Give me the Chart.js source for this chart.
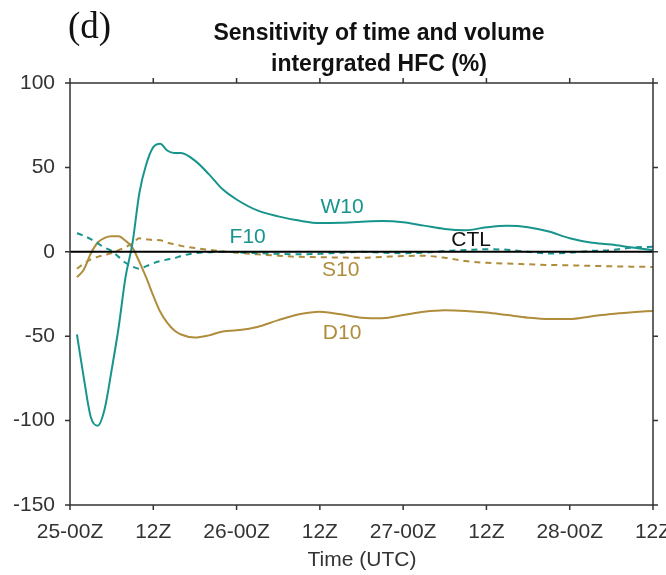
<!DOCTYPE html>
<html>
<head>
<meta charset="utf-8">
<script src="https://cdn.jsdelivr.net/npm/chart.js@4"></script>
<style>
  html, body { margin: 0; padding: 0; background: #fff; }
  #wrap { width: 666px; height: 575px; position: relative; }
</style>
</head>
<body>
<div id="wrap"><canvas id="chartHFC"></canvas></div>
<script>
// hours since 25-00Z
const hours = [1, 2, 3, 4, 5, 6, 7, 8, 9, 10, 11, 12, 13, 14, 15, 16, 18, 20, 22, 24,
  27, 30, 33, 36, 39, 42, 45, 48, 51, 54, 57, 60, 63, 66, 69, 72, 75, 78, 81, 84];

const w10 = [-49, -75, -98, -103, -93, -70, -45, -15, 5, 35, 52, 62, 64, 60, 58.5, 58.5, 54, 46, 37, 31,
  24.5, 21, 18.5, 17, 17.2, 17.8, 18.2, 17.5, 15.5, 13.5, 12.8, 14.5, 15.4, 14.6, 12, 8, 5.5, 4.3, 2.5, 1];
const d10 = [-15, -10.5, -1, 5.5, 8.3, 9.2, 9.2, 6.5, 2.5, -6, -15.5, -26, -35.5, -42, -46.5, -49, -50.8, -49.5, -47.2, -46.5,
  -44.5, -40.5, -37, -35.5, -37, -39, -39.3, -37.5, -35.5, -34.6, -35, -36, -37.5, -39, -39.8, -39.8, -38.3, -36.8, -35.8, -35];
const s10 = [-10, -7, -4.5, -3, -1.8, -0.8, 1, 2.8, 5, 8, 7.5, 7, 6.8, 5.5, 4.5, 3.5, 2.3, 1.2, 0.2, -0.5,
  -1.5, -2.3, -3, -3.2, -3.4, -3.5, -3, -2.5, -2.4, -3.5, -5.5, -6.5, -7, -7.4, -7.8, -8, -8.3, -8.6, -8.8, -9];
const f10 = [11, 9.5, 7.5, 5, 2.5, 0.5, -3, -6.5, -8.8, -10, -8.5, -6.8, -5.5, -4.6, -3.8, -2.5, -0.8, -0.3, 0, -0.3,
  -0.8, -1.2, -1.5, -1.2, -0.5, 0, -0.5, -0.8, -0.5, 0.5, 1, 1.5, 1.2, 0, -1, -0.5, 0.5, 1, 2.5, 3];
const ctlHours = [0, 84];
const ctl = [0, 0];

const xTickLabels = ["25-00Z", "12Z", "26-00Z", "12Z", "27-00Z", "12Z", "28-00Z", "12Z"];

// line names written next to the curves (hour, value)
const lineLabels = [
  { text: "W10", x: 39.2, y: 26.7, color: "#17958d" },
  { text: "F10", x: 25.6, y: 8.9, color: "#17958d" },
  { text: "CTL", x: 57.8, y: 7.1, color: "#111" },
  { text: "S10", x: 39, y: -10.7, color: "#b08d3c" },
  { text: "D10", x: 39.2, y: -48, color: "#b08d3c" }
];

const TEAL = "#17958d";
const GOLD = "#b08d3c";
const FONT = "'Liberation Sans', Arial, sans-serif";

function pts(xs, ys) {
  return xs.map((x, i) => ({ x: x, y: ys[i] }));
}

const decorPlugin = {
  id: "decor",
  afterDatasetsDraw(chart) {
    const { ctx, chartArea: a, scales } = chart;
    ctx.save();

    // frame + outward ticks
    ctx.strokeStyle = "#333";
    ctx.lineWidth = 1.5;
    ctx.strokeRect(a.left, a.top, a.right - a.left, a.bottom - a.top);
    ctx.beginPath();
    for (let h = 0; h <= 84; h += 12) {
      const px = scales.x.getPixelForValue(h);
      ctx.moveTo(px, a.bottom); ctx.lineTo(px, a.bottom + 5);
      ctx.moveTo(px, a.top); ctx.lineTo(px, a.top - 5);
    }
    for (let v = -150; v <= 100; v += 50) {
      const py = scales.y.getPixelForValue(v);
      ctx.moveTo(a.left, py); ctx.lineTo(a.left - 5, py);
      ctx.moveTo(a.right, py); ctx.lineTo(a.right + 5, py);
    }
    ctx.stroke();

    // names of the curves
    ctx.font = "21px " + FONT;
    ctx.textAlign = "center";
    ctx.textBaseline = "middle";
    lineLabels.forEach(l => {
      ctx.fillStyle = l.color;
      ctx.fillText(l.text, scales.x.getPixelForValue(l.x), scales.y.getPixelForValue(l.y));
    });

    // panel letter and title
    ctx.fillStyle = "#111";
    ctx.font = "37px 'Liberation Serif', 'Times New Roman', serif";
    ctx.textAlign = "left";
    ctx.fillText("(d)", 68, 28);
    ctx.font = "bold 23px " + FONT;
    ctx.textAlign = "center";
    ctx.fillText("Sensitivity of time and volume", 379, 34);
    ctx.fillText("intergrated HFC (%)", 379, 65);

    // x axis title
    ctx.font = "21px " + FONT;
    ctx.fillStyle = "#333";
    ctx.fillText("Time (UTC)", 362, 560);
    ctx.restore();
  }
};

const ctx = document.getElementById("chartHFC");

new Chart(ctx, {
  type: "line",
  data: {
    datasets: [
      { label: "CTL", data: pts(ctlHours, ctl), borderColor: "#000", borderWidth: 2 },
      { label: "W10", data: pts(hours, w10), borderColor: TEAL, borderWidth: 2 },
      { label: "F10", data: pts(hours, f10), borderColor: TEAL, borderWidth: 2, borderDash: [6, 5] },
      { label: "D10", data: pts(hours, d10), borderColor: GOLD, borderWidth: 2 },
      { label: "S10", data: pts(hours, s10), borderColor: GOLD, borderWidth: 2, borderDash: [6, 5] }
    ]
  },
  options: {
    responsive: true,
    maintainAspectRatio: false,
    animation: false,
    layout: { padding: { top: 83, right: 13, bottom: 0, left: 0 } },
    elements: {
      point: { radius: 0 },
      line: { cubicInterpolationMode: "monotone", fill: false }
    },
    plugins: {
      legend: { display: false },
      tooltip: { enabled: false }
    },
    scales: {
      x: {
        type: "linear",
        min: 0,
        max: 84,
        afterFit: s => { s.height = 70; s.paddingLeft = 0; s.paddingRight = 0; },
        grid: { display: false, drawTicks: false },
        border: { display: false },
        ticks: {
          stepSize: 12,
          padding: 15,
          color: "#333",
          font: { family: FONT, size: 21 },
          maxRotation: 0,
          autoSkip: false,
          callback: v => xTickLabels[v / 12]
        }
      },
      y: {
        min: -150,
        max: 100,
        afterFit: s => { s.width = 70; },
        grid: { display: false, drawTicks: false },
        border: { display: false },
        ticks: {
          stepSize: 50,
          padding: 15,
          color: "#333",
          font: { family: FONT, size: 21 }
        }
      }
    }
  },
  plugins: [decorPlugin]
});
</script>
</body>
</html>
